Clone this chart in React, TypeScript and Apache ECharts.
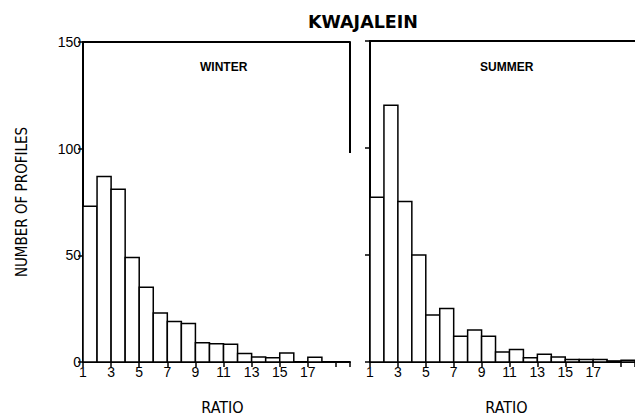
import React, { useEffect, useRef } from "react";
import * as echarts from "echarts";

// Histogram bins: each bin spans [start, start + 1] on the RATIO axis
const binStarts = [1, 2, 3, 4, 5, 6, 7, 8, 9, 10, 11, 12, 13, 14, 15, 16, 17, 18, 19];
const winterCounts = [73, 87, 81, 49, 35, 23, 19, 18, 9, 8.6, 8.3, 4, 2.3, 2, 4.2, 0, 2.2, 0, 0];
const summerCounts = [77, 120, 75, 50, 22, 25, 12, 15, 12, 4.7, 5.8, 2, 3.6, 2.3, 1.2, 1.2, 1.2, 0.5, 0.8];

const xTickValues = [1, 3, 5, 7, 9, 11, 13, 15, 17];

const chartTitle = "KWAJALEIN";
const panelTitles = ["WINTER", "SUMMER"];
const yAxisName = "NUMBER OF PROFILES";
const xAxisName = "RATIO";

const narrow = "'Liberation Sans Narrow', 'DejaVu Sans Condensed', 'Liberation Sans', sans-serif";
const sans = "'Liberation Sans', Arial, sans-serif";

export default function App() {
  const ref = useRef<HTMLDivElement>(null);

  useEffect(() => {
    if (!ref.current) return;
    const chart = echarts.init(ref.current, undefined, { renderer: "svg" });

    const barRender = (params: any, api: any) => {
      const x0 = api.value(0);
      const y = api.value(1);
      const p0 = api.coord([x0, y]);
      const p1 = api.coord([x0 + 1, 0]);
      return {
        type: "rect",
        shape: { x: p0[0], y: p0[1], width: p1[0] - p0[0], height: p1[1] - p0[1] },
        style: { fill: "#fff", stroke: "#000", lineWidth: 1.5 },
      };
    };

    const borderRender = (params: any, api: any) => {
      const a = api.coord([api.value(0), api.value(1)]);
      const b = api.coord([api.value(0), api.value(2)]);
      return {
        type: "line",
        shape: { x1: a[0], y1: a[1], x2: b[0], y2: b[1] },
        style: { stroke: "#000", lineWidth: 2 },
      };
    };

    const bottomX = (gridIndex: number, pad: number) => ({
      type: "value",
      gridIndex,
      min: 1,
      max: 20,
      interval: 2,
      position: "bottom",
      splitLine: { show: false },
      axisLine: { show: true, onZero: false, lineStyle: { color: "#000", width: 2 } },
      axisTick: {
        show: true,
        length: 5,
        inside: false,
        lineStyle: { color: "#000", width: 1.5 },
      },
      axisLabel: {
        show: true,
        customValues: xTickValues,
        margin: 3,
        color: "#000",
        fontSize: 14,
        fontFamily: sans,
      },
      name: xAxisName,
      nameLocation: "middle",
      nameGap: 37,
      nameTextStyle: {
        color: "#000",
        fontSize: 16,
        lineHeight: 16,
        fontFamily: narrow,
        padding: [0, 0, 0, pad],
      },
    });

    const topX = (gridIndex: number) => ({
      type: "value",
      gridIndex,
      min: 1,
      max: 20,
      position: "top",
      splitLine: { show: false },
      axisLine: { show: true, onZero: false, lineStyle: { color: "#000", width: 2 } },
      axisTick: { show: false },
      axisLabel: { show: false },
    });

    const leftY = (gridIndex: number, showLabels: boolean) => ({
      type: "value",
      gridIndex,
      min: 0,
      max: 150,
      interval: 50,
      splitLine: { show: false },
      axisLine: { show: true, onZero: false, lineStyle: { color: "#000", width: 2 } },
      axisTick: { show: true, length: 5, inside: false, lineStyle: { color: "#000", width: 1.5 } },
      axisLabel: {
        show: showLabels,
        margin: 2,
        color: "#000",
        fontSize: 14,
        fontFamily: sans,
      },
      ...(showLabels
        ? {
            name: yAxisName,
            nameLocation: "middle",
            nameRotate: 90,
            nameGap: 54,
            nameTextStyle: { color: "#000", fontSize: 15, fontFamily: narrow },
          }
        : {}),
    });

    chart.setOption({
      animation: false,
      backgroundColor: "#fff",
      title: [
        {
          text: chartTitle,
          left: 303,
          top: 8,
          textStyle: { color: "#000", fontSize: 17.5, fontWeight: "bold", fontFamily: "'DejaVu Sans', sans-serif" },
        },
        {
          text: panelTitles[0],
          left: 195,
          top: 56,
          textStyle: { color: "#000", fontSize: 12, fontWeight: "bold", fontFamily: sans },
        },
        {
          text: panelTitles[1],
          left: 475,
          top: 56,
          textStyle: { color: "#000", fontSize: 12, fontWeight: "bold", fontFamily: sans },
        },
      ],
      grid: [
        { left: 83, top: 42, width: 267, height: 320, outerBoundsMode: "none", containLabel: false },
        { left: 370, top: 41, width: 265, height: 321, outerBoundsMode: "none", containLabel: false },
      ],
      xAxis: [bottomX(0, 12), bottomX(1, 8), topX(0), topX(1)],
      yAxis: [leftY(0, true), leftY(1, false)],
      series: [
        {
          type: "custom",
          name: panelTitles[0],
          xAxisIndex: 0,
          yAxisIndex: 0,
          renderItem: barRender,
          encode: { x: 0, y: 1 },
          data: binStarts.map((b, i) => [b, winterCounts[i]]),
        },
        {
          type: "custom",
          name: panelTitles[1],
          xAxisIndex: 1,
          yAxisIndex: 1,
          renderItem: barRender,
          encode: { x: 0, y: 1 },
          data: binStarts.map((b, i) => [b, summerCounts[i]]),
        },
        {
          type: "custom",
          xAxisIndex: 0,
          yAxisIndex: 0,
          renderItem: borderRender,
          encode: { x: 0, y: [1, 2] },
          data: [[20, 150, 98]],
          silent: true,
        },
      ],
    });

    return () => chart.dispose();
  }, []);

  return (
    <div
      ref={ref}
      style={{ position: "fixed", left: 0, top: 0, width: 635, height: 416, background: "#fff" }}
    />
  );
}
